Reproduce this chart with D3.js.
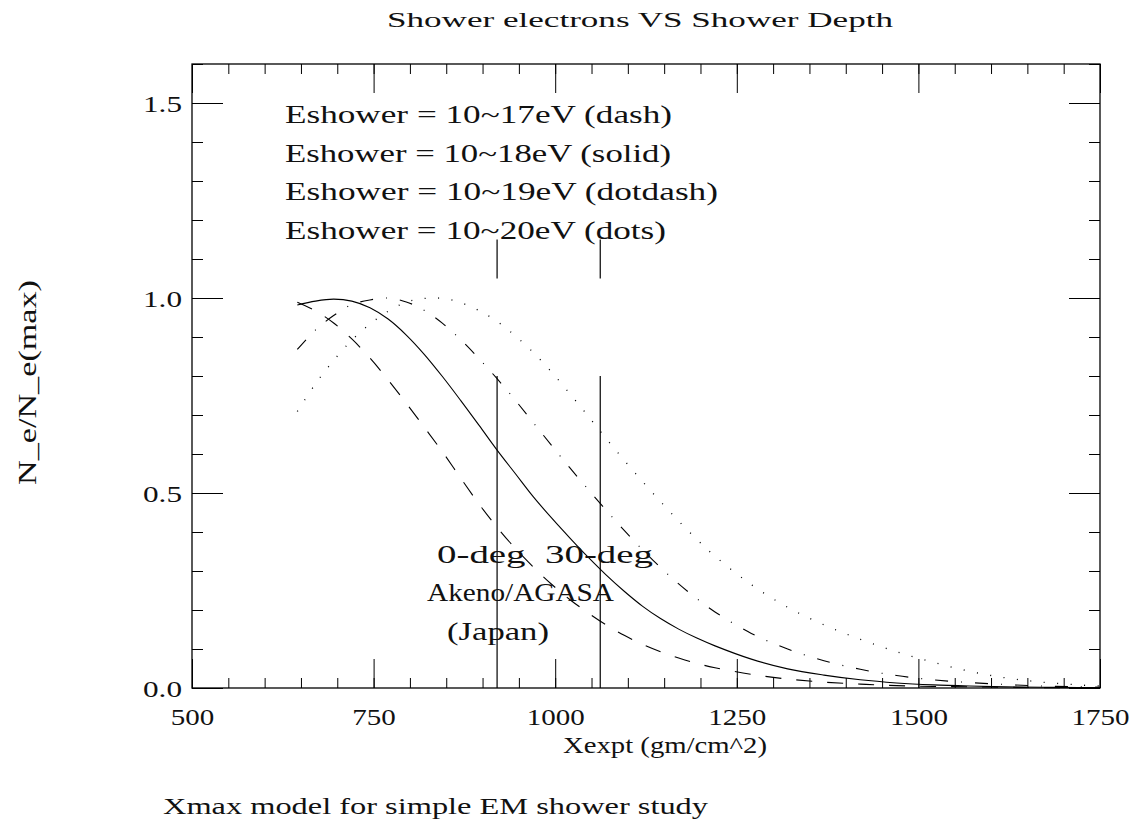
<!DOCTYPE html>
<html>
<head>
<meta charset="utf-8">
<script src="https://cdn.jsdelivr.net/npm/d3@7"></script>
<style>
  html, body { margin: 0; padding: 0; background: #fff; }
  svg { display: block; }
  text { font-family: "Liberation Serif", "DejaVu Serif", serif; fill: #111; }
</style>
</head>
<body>
<svg id="chart" width="1140" height="828"></svg>
<script>
// Atmospheric depth (gm/cm^2) at which the profiles are sampled
const depth = [645, 670, 695, 720, 745, 770, 795, 820, 845, 870, 895, 920, 945, 970, 995,
  1020, 1045, 1070, 1095, 1120, 1145, 1170, 1195, 1220, 1270, 1320, 1370, 1420, 1470,
  1520, 1570, 1620, 1670, 1720, 1750];

// Relative electron number N_e / N_e(max) for each shower energy
const ne17 = [0.989, 0.967, 0.936, 0.895, 0.846, 0.790, 0.730, 0.668, 0.605, 0.538, 0.472,
  0.412, 0.358, 0.310, 0.266, 0.227, 0.193, 0.162, 0.135, 0.112, 0.093, 0.077, 0.063,
  0.052, 0.035, 0.023, 0.015, 0.010, 0.006, 0.004, 0.003, 0.002, 0.001, 0.001, 0.0005];
const ne18 = [0.982, 0.992, 0.997, 0.992, 0.975, 0.946, 0.905, 0.855, 0.798, 0.737, 0.674,
  0.610, 0.550, 0.490, 0.436, 0.385, 0.336, 0.290, 0.248, 0.210, 0.178, 0.151, 0.128,
  0.108, 0.074, 0.049, 0.033, 0.021, 0.013, 0.008, 0.005, 0.003, 0.002, 0.001, 0.001];
const ne19 = [0.868, 0.918, 0.955, 0.983, 0.995, 1.000, 0.990, 0.968, 0.935, 0.893, 0.845,
  0.793, 0.738, 0.680, 0.622, 0.565, 0.510, 0.456, 0.404, 0.355, 0.309, 0.267, 0.229,
  0.195, 0.140, 0.100, 0.070, 0.048, 0.032, 0.021, 0.014, 0.009, 0.005, 0.003, 0.002];
const ne20 = [0.709, 0.780, 0.840, 0.892, 0.933, 0.966, 0.989, 0.999, 0.999, 0.988, 0.968,
  0.940, 0.903, 0.860, 0.810, 0.755, 0.698, 0.640, 0.584, 0.530, 0.478, 0.428, 0.381,
  0.338, 0.265, 0.207, 0.162, 0.125, 0.093, 0.066, 0.043, 0.026, 0.015, 0.008, 0.005];

// Line style per energy
const seriesDash = ["16,15", null, "13,13,1,13", "1,12.5"];

// Ground depths of the array site: vertical and 30-degree incidence
const siteDepth = [920, 1062];
const siteLow = [0, 0.8];
const siteHigh = [1.05, 1.15];

const xMajor = [500, 750, 1000, 1250, 1500, 1750];
const xMinor = d3.range(500, 1751, 50);
const yMajor = [0, 0.5, 1.0, 1.5];
const yMinor = d3.range(0, 1.601, 0.1);

const legendLines = [
  "Eshower = 10~17eV (dash)",
  "Eshower = 10~18eV (solid)",
  "Eshower = 10~19eV (dotdash)",
  "Eshower = 10~20eV (dots)"
];
const legendWidths = [387, 386, 433, 381];

const svg = d3.select("#chart");
const plotL = 192, plotR = 1100, plotT = 64, plotB = 688;

const x = d3.scaleLinear().domain([500, 1750]).range([plotL, plotR]);
const y = d3.scaleLinear().domain([0, 1.6]).range([plotB, plotT]);

// helper: stretch a text node to a given width (wide plotter lettering)
function fit(sel, w) {
  sel.attr("textLength", w).attr("lengthAdjust", "spacingAndGlyphs");
}

// ---- axes: major and minor ticks on all four sides, pointing inwards ----
function styleAxis(g) {
  g.select(".domain").remove();
  g.selectAll(".tick line").attr("stroke", "#000").attr("stroke-width", 1);
}

const fontTick = 24;

svg.append("g").attr("transform", `translate(0,${plotB})`)
  .call(d3.axisBottom(x).tickValues(xMinor).tickSizeInner(-10).tickSizeOuter(0).tickFormat(""))
  .call(styleAxis);
const xb = svg.append("g").attr("transform", `translate(0,${plotB})`)
  .call(d3.axisBottom(x).tickValues(xMajor).tickSizeInner(-29).tickSizeOuter(0)
    .tickPadding(20).tickFormat(d3.format("d")))
  .call(styleAxis);
xb.selectAll(".tick text")
  .attr("font-size", fontTick)
  .each(function(d) { fit(d3.select(this), String(d).length * 14.5); });

svg.append("g").attr("transform", `translate(0,${plotT})`)
  .call(d3.axisTop(x).tickValues(xMinor).tickSizeInner(-10).tickSizeOuter(0).tickFormat(""))
  .call(styleAxis);
svg.append("g").attr("transform", `translate(0,${plotT})`)
  .call(d3.axisTop(x).tickValues(xMajor).tickSizeInner(-29).tickSizeOuter(0).tickFormat(""))
  .call(styleAxis);

svg.append("g").attr("transform", `translate(${plotL},0)`)
  .call(d3.axisLeft(y).tickValues(yMinor).tickSizeInner(-11).tickSizeOuter(0).tickFormat(""))
  .call(styleAxis);
const yl = svg.append("g").attr("transform", `translate(${plotL},0)`)
  .call(d3.axisLeft(y).tickValues(yMajor).tickSizeInner(-31).tickSizeOuter(0)
    .tickPadding(10).tickFormat(d3.format(".1f")))
  .call(styleAxis);
yl.selectAll(".tick text")
  .attr("font-size", fontTick).attr("dy", "0.36em")
  .each(function() { fit(d3.select(this), 39); });

svg.append("g").attr("transform", `translate(${plotR},0)`)
  .call(d3.axisRight(y).tickValues(yMinor).tickSizeInner(-11).tickSizeOuter(0).tickFormat(""))
  .call(styleAxis);
svg.append("g").attr("transform", `translate(${plotR},0)`)
  .call(d3.axisRight(y).tickValues(yMajor).tickSizeInner(-31).tickSizeOuter(0).tickFormat(""))
  .call(styleAxis);

// frame
svg.append("rect")
  .attr("x", plotL).attr("y", plotT)
  .attr("width", plotR - plotL).attr("height", plotB - plotT)
  .attr("fill", "none").attr("stroke", "#000").attr("stroke-width", 1.3);

// ---- shower profiles ----
const series = [ne17, ne18, ne19, ne20];
const line = d3.line()
  .x((d, i) => x(depth[i]))
  .y(d => y(d))
  .curve(d3.curveCatmullRom.alpha(0.5));

series.forEach((vals, k) => {
  const p = svg.append("path")
    .datum(vals)
    .attr("d", line)
    .attr("fill", "none")
    .attr("stroke", "#000")
    .attr("stroke-width", k === 3 ? 1.3 : 1.1);
  if (seriesDash[k]) p.attr("stroke-dasharray", seriesDash[k]);
});

// ---- site depth markers ----
siteDepth.forEach(d => {
  svg.append("line")
    .attr("x1", x(d)).attr("x2", x(d))
    .attr("y1", y(siteLow[0])).attr("y2", y(siteLow[1]))
    .attr("stroke", "#000").attr("stroke-width", 1.2);
  svg.append("line")
    .attr("x1", x(d)).attr("x2", x(d))
    .attr("y1", y(siteHigh[0])).attr("y2", y(siteHigh[1]))
    .attr("stroke", "#000").attr("stroke-width", 1.2);
});

// ---- texts ----
const title = svg.append("text")
  .attr("x", 387).attr("y", 27)
  .attr("font-size", 22)
  .text("Shower electrons VS Shower Depth");
fit(title, 506);

legendLines.forEach((s, i) => {
  const t = svg.append("text")
    .attr("x", 285).attr("y", 123 + i * 38.5)
    .attr("font-size", 26)
    .text(s);
  fit(t, legendWidths[i]);
});

const a1 = svg.append("text").attr("x", 437).attr("y", 563).attr("font-size", 25)
  .attr("xml:space", "preserve").text("0-deg  30-deg");
fit(a1, 216);
const a2 = svg.append("text").attr("x", 427).attr("y", 601).attr("font-size", 25).text("Akeno/AGASA");
fit(a2, 187);
const a3 = svg.append("text").attr("x", 447).attr("y", 640).attr("font-size", 25).text("(Japan)");
fit(a3, 102);

const xl = svg.append("text").attr("x", 563).attr("y", 753).attr("font-size", 24)
  .text("Xexpt (gm/cm^2)");
fit(xl, 204);

const ylab = svg.append("text")
  .attr("transform", "translate(36,485) rotate(-90)")
  .attr("font-size", 25)
  .text("N_e/N_e(max)");
fit(ylab, 205);

const cap = svg.append("text").attr("x", 163).attr("y", 814).attr("font-size", 24)
  .text("Xmax model for simple EM shower study");
fit(cap, 545);
</script>
</body>
</html>
